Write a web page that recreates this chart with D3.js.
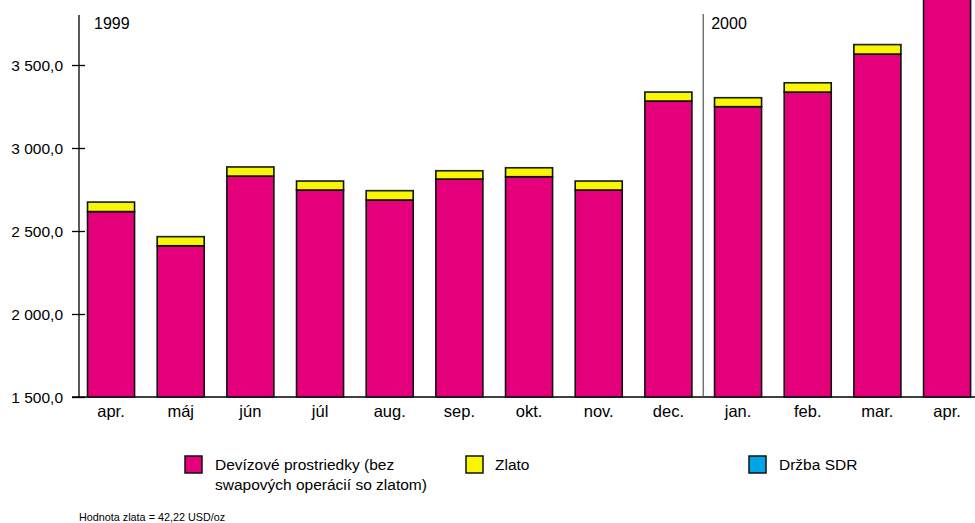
<!DOCTYPE html>
<html><head><meta charset="utf-8">
<script src="https://cdn.jsdelivr.net/npm/d3@7"></script>
<style>
html,body{margin:0;padding:0;background:#fff;}
svg{display:block;font-family:"Liberation Sans",Arial,Helvetica,sans-serif;}
</style></head>
<body>
<svg id="chart" width="975" height="523"></svg>
<script>
const months = ["apr.","máj","jún","júl","aug.","sep.","okt.","nov.","dec.","jan.","feb.","mar.","apr."];
const devizove = [2617,2411,2831,2747,2687,2813,2827,2747,3283,3249,3337,3566,3960];
const zlato = [57,55,55,54,56,50,54,54,54,54,56,57,57];
const sdr = [1,1,1,1,1,1,1,1,1,1,1,1,1];
const yTicks = [1500,2000,2500,3000,3500];
const yearLabels = ["1999","2000"];
const seriesNames = ["Devízové prostriedky (bez\nswapových operácií so zlatom)","Zlato","Držba SDR"];
const colors = ["#E3007A","#FAF500","#00A5E6"];

const svg = d3.select("#chart");
const x = d3.scaleBand().domain(d3.range(months.length)).range([76.2,981.9]).paddingInner(0.325).paddingOuter(0.1625);
const y = d3.scaleLinear().domain([1500,3891.6]).range([397,0]);

const rows = months.map((m,i)=>({i, dev:devizove[i], zl:zlato[i], sdr:sdr[i]}));
const stack = d3.stack().keys(["dev","zl","sdr"]);
const layers = stack(rows);

// baseline
svg.append("line").attr("x1",72).attr("x2",975).attr("y1",y(1500)).attr("y2",y(1500)).attr("stroke","#000").attr("stroke-width",1.3);

// bars
layers.forEach((layer,li)=>{
  svg.append("g").selectAll("rect").data(layer).join("rect")
    .attr("x",d=>x(d.data.i))
    .attr("width",x.bandwidth())
    .attr("y",d=>y(d[1]))
    .attr("height",d=>Math.max(0,y(li===0?1500:d[0])-y(d[1])))
    .attr("fill",colors[li])
    .attr("stroke",li===2?"none":"#111")
    .attr("stroke-width",1.6);
});

// separator 1999 / 2000
const sepX = (x(8)+x.bandwidth()+x(9))/2;
svg.append("line").attr("x1",sepX).attr("x2",sepX).attr("y1",14).attr("y2",y(1500)).attr("stroke","#555").attr("stroke-width",1.2);

// y axis
const yAxis = d3.axisLeft(y).tickValues(yTicks).tickSize(0).tickPadding(16)
  .tickFormat(d=>d3.format(",.1f")(d).replace(",","\u00a0").replace(".",","));
const gy = svg.append("g").attr("transform","translate(79,0)").call(yAxis);
gy.select(".domain").remove();
gy.selectAll(".tick line").attr("x1",-7).attr("x2",6).attr("stroke","#000").attr("stroke-width",1.3);
gy.selectAll(".tick text").attr("font-size",15.5).attr("fill","#000").attr("font-family","Liberation Sans, Arial, sans-serif").attr("dy","0.35em");
svg.append("line").attr("x1",79).attr("x2",79).attr("y1",15).attr("y2",y(1500)).attr("stroke","#000").attr("stroke-width",1.3);

// x labels
const xAxis = d3.axisBottom(x).tickSize(0).tickPadding(8).tickFormat(i=>months[i]);
const gx = svg.append("g").attr("transform",`translate(0,${y(1500)})`).call(xAxis);
gx.select(".domain").remove();
gx.selectAll(".tick text").attr("font-size",16.5).attr("fill","#000").attr("font-family","Liberation Sans, Arial, sans-serif");

// year labels
svg.append("text").attr("x",94).attr("y",29).attr("font-size",16).text(yearLabels[0]);
svg.append("text").attr("x",sepX+8).attr("y",29).attr("font-size",16).text(yearLabels[1]);

// legend
const legPos = [{x:185,tx:215},{x:466,tx:495},{x:749,tx:779}];
seriesNames.forEach((name,i)=>{
  const g = svg.append("g");
  g.append("rect").attr("x",legPos[i].x).attr("y",456).attr("width",17).attr("height",17)
    .attr("fill",colors[i]).attr("stroke","#111").attr("stroke-width",1.5);
  const t = g.append("text").attr("x",legPos[i].tx).attr("y",470).attr("font-size",15.5);
  name.split("\n").forEach((ln,k)=>{
    t.append("tspan").attr("x",legPos[i].tx).attr("dy",k===0?0:20).text(ln);
  });
});

// footnote
svg.append("text").attr("x",79).attr("y",521).attr("font-size",10.8).text("Hodnota zlata = 42,22 USD/oz");
</script>
</body></html>
